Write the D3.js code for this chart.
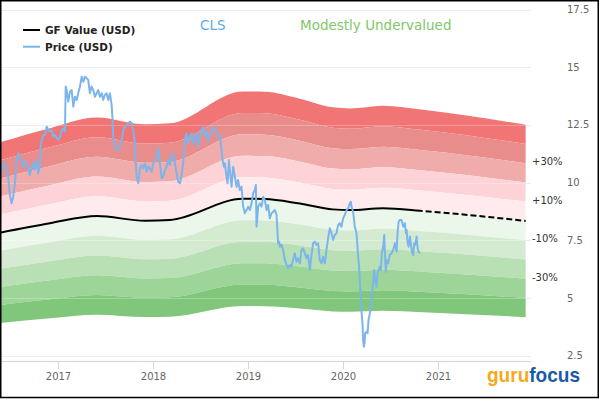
<!DOCTYPE html>
<html><head><meta charset="utf-8">
<script src="https://cdn.jsdelivr.net/npm/d3@7"></script>
<style>html,body{margin:0;padding:0;background:#fff;}svg{display:block;}</style>
</head><body>
<div id="chart"></div>
<script>
// ---------- DATA ----------
const title = "CLS";
const verdict = "Modestly Undervalued";
const legendLabels = ["GF Value (USD)", "Price (USD)"];
const yTicks = [2.5, 5, 7.5, 10, 12.5, 15, 17.5];
const xTickYears = [2017, 2018, 2019, 2020, 2021];
const bandRatios = [1.5, 1.4, 1.3, 1.2, 1.1, 1.0, 0.9, 0.8, 0.7, 0.6, 0.5];
const pctLabels = [["+30%", 1.3], ["+10%", 1.1], ["-10%", 0.9], ["-30%", 0.7]];

// GF Value (decimal year, USD)
const gfValue = [
  [2016.386,7.83],[2016.912,8.24],[2017.407,8.55],[2017.912,8.35],[2018.176,8.38],
  [2018.944,9.30],[2019.176,9.29],[2019.544,9.09],[2019.891,8.84],[2020.070,8.81],
  [2020.418,8.89],[2020.839,8.77],[2021.920,8.34]
];

// Price (decimal year, USD)
const price = [
[2016.393,10.19],[2016.414,10.76],[2016.439,10.84],[2016.457,10.55],[2016.473,10.26],[2016.491,9.46],[2016.509,9.10],[2016.526,9.39],[2016.544,9.97],[2016.562,10.98],[2016.579,11.27],[2016.597,11.12],[2016.614,10.98],[2016.631,10.69],[2016.649,10.91],[2016.667,10.84],[2016.684,10.55],[2016.702,10.33],[2016.720,10.69],[2016.737,10.84],[2016.754,10.55],[2016.772,10.98],[2016.789,10.40],[2016.807,10.69],[2016.814,11.56],[2016.825,11.85],[2016.842,12.06],[2016.860,12.06],[2016.878,12.42],[2016.894,12.28],[2016.912,12.21],[2016.930,12.28],[2016.947,11.99],[2016.965,12.06],[2016.983,11.92],[2017.000,11.85],[2017.018,11.99],[2017.036,12.28],[2017.053,12.35],[2017.070,12.21],[2017.078,14.16],[2017.088,14.01],[2017.105,13.51],[2017.123,13.94],[2017.141,14.01],[2017.158,13.29],[2017.176,13.72],[2017.194,13.58],[2017.210,13.87],[2017.228,14.16],[2017.246,14.59],[2017.263,14.37],[2017.281,14.59],[2017.299,14.52],[2017.315,14.45],[2017.333,13.87],[2017.351,14.16],[2017.368,14.01],[2017.386,13.72],[2017.404,13.87],[2017.421,14.01],[2017.439,13.72],[2017.457,13.87],[2017.473,13.58],[2017.491,13.80],[2017.509,13.87],[2017.526,13.58],[2017.544,13.87],[2017.562,13.36],[2017.572,12.71],[2017.579,11.99],[2017.597,11.56],[2017.614,11.41],[2017.631,11.41],[2017.649,11.56],[2017.667,11.85],[2017.684,12.28],[2017.702,12.42],[2017.720,12.50],[2017.754,12.64],[2017.772,12.57],[2017.789,12.28],[2017.807,11.70],[2017.818,10.69],[2017.825,10.26],[2017.842,9.97],[2017.860,10.62],[2017.878,10.76],[2017.894,10.62],[2017.912,10.84],[2017.930,10.47],[2017.947,10.69],[2017.965,10.62],[2017.983,10.47],[2018.000,10.84],[2018.018,10.98],[2018.036,11.12],[2018.053,11.49],[2018.070,10.84],[2018.088,10.19],[2018.105,10.26],[2018.123,10.55],[2018.141,10.69],[2018.158,10.98],[2018.176,10.76],[2018.194,11.12],[2018.210,11.27],[2018.228,10.84],[2018.246,10.40],[2018.263,10.04],[2018.281,9.97],[2018.299,10.33],[2018.315,10.84],[2018.333,11.85],[2018.351,12.14],[2018.368,11.70],[2018.386,11.99],[2018.404,12.14],[2018.421,11.70],[2018.439,11.92],[2018.457,12.14],[2018.473,11.56],[2018.491,11.92],[2018.509,12.28],[2018.526,12.42],[2018.544,12.06],[2018.562,12.21],[2018.579,11.77],[2018.597,12.06],[2018.614,12.28],[2018.631,12.42],[2018.649,12.28],[2018.667,12.14],[2018.684,11.99],[2018.702,12.06],[2018.713,11.70],[2018.730,10.98],[2018.744,10.69],[2018.754,10.84],[2018.772,10.26],[2018.783,9.97],[2018.797,10.98],[2018.807,10.55],[2018.825,9.82],[2018.842,10.69],[2018.860,10.26],[2018.878,9.82],[2018.894,10.11],[2018.912,9.68],[2018.930,9.82],[2018.947,8.96],[2018.965,8.67],[2018.983,8.81],[2019.000,8.96],[2019.018,8.81],[2019.036,9.10],[2019.053,9.54],[2019.070,9.68],[2019.081,9.90],[2019.088,8.09],[2019.095,8.38],[2019.105,8.96],[2019.123,9.10],[2019.141,8.96],[2019.158,9.39],[2019.176,9.25],[2019.194,8.81],[2019.210,9.03],[2019.228,8.45],[2019.246,8.67],[2019.263,8.74],[2019.281,8.81],[2019.299,8.60],[2019.315,7.37],[2019.326,7.44],[2019.333,7.22],[2019.351,7.30],[2019.368,7.08],[2019.386,6.65],[2019.404,6.43],[2019.421,6.29],[2019.439,6.43],[2019.457,6.36],[2019.473,6.65],[2019.491,6.94],[2019.509,6.57],[2019.526,6.72],[2019.544,6.50],[2019.562,7.08],[2019.579,7.15],[2019.597,6.94],[2019.614,6.72],[2019.631,6.86],[2019.649,6.21],[2019.667,6.86],[2019.684,7.37],[2019.702,7.44],[2019.720,7.30],[2019.737,7.37],[2019.754,6.65],[2019.772,6.50],[2019.789,6.79],[2019.807,6.50],[2019.825,7.08],[2019.842,7.59],[2019.860,8.02],[2019.878,7.80],[2019.895,7.51],[2019.912,7.73],[2019.930,7.80],[2019.947,8.16],[2019.965,8.24],[2019.983,8.09],[2020.000,8.45],[2020.018,8.60],[2020.036,8.81],[2020.053,8.89],[2020.070,9.10],[2020.081,9.17],[2020.088,8.96],[2020.105,8.74],[2020.123,8.09],[2020.141,7.80],[2020.158,6.79],[2020.168,6.36],[2020.175,5.78],[2020.186,4.91],[2020.197,4.19],[2020.204,3.90],[2020.210,3.18],[2020.218,2.89],[2020.225,3.04],[2020.231,3.47],[2020.246,3.54],[2020.257,3.47],[2020.267,4.05],[2020.281,4.34],[2020.292,4.62],[2020.302,5.20],[2020.316,5.64],[2020.326,6.21],[2020.337,5.78],[2020.351,5.49],[2020.362,6.07],[2020.372,6.21],[2020.386,6.36],[2020.397,6.21],[2020.407,6.94],[2020.421,7.22],[2020.432,7.73],[2020.442,6.65],[2020.449,6.14],[2020.457,6.65],[2020.473,6.50],[2020.491,6.86],[2020.509,6.94],[2020.526,7.08],[2020.544,7.37],[2020.562,7.01],[2020.572,7.80],[2020.583,8.31],[2020.597,8.38],[2020.614,8.38],[2020.631,8.09],[2020.649,8.24],[2020.660,7.80],[2020.667,7.95],[2020.677,7.44],[2020.688,7.22],[2020.702,7.66],[2020.712,7.37],[2020.723,7.01],[2020.737,6.86],[2020.747,7.37],[2020.758,7.30],[2020.772,7.66],[2020.783,7.15],[2020.793,7.01],[2020.807,6.94]
];

// ---------- STYLE ----------
const bandColors = ["#f17575","#e98c8c","#f0abab","#fdd3d7","#ffebee",
                    "#ecf7ec","#d4ebd2","#b9e0b5","#9dd498","#80c67b"];
const W = 600, H = 420;
const font = "'DejaVu Sans', Verdana, sans-serif";

function toDate(t){
  const y = Math.floor(t);
  const s = Date.UTC(y,0,1), e = Date.UTC(y+1,0,1);
  return new Date(s + (t - y) * (e - s));
}

const svg = d3.select("#chart").append("svg").attr("width", W).attr("height", H);
svg.append("rect").attr("width", W).attr("height", H).attr("fill", "#fff");

const x = d3.scaleUtc()
  .domain([new Date(Date.UTC(2017,0,1)), new Date(Date.UTC(2021,0,1))])
  .range([58.3, 438.3]);
const y = d3.scaleLinear().domain([2.5, 17.5]).range([355.7, 9.5]);
const plotRight = 530.7, axisY = 361;

// gridlines
svg.append("g").selectAll("line").data(yTicks).join("line")
  .attr("x1", 0).attr("x2", plotRight)
  .attr("y1", d => Math.round(y(d)) + 0.5).attr("y2", d => Math.round(y(d)) + 0.5)
  .attr("stroke", "#e6e6e6").attr("stroke-width", 1);

// bands
const gfData = gfValue.map(d => ({t: toDate(d[0]), v: d[1]}));
const bands = svg.append("g");
for (let i = 0; i < bandRatios.length - 1; i++) {
  const hi = bandRatios[i], lo = bandRatios[i+1];
  const area = d3.area().curve(d3.curveMonotoneX)
    .x(d => x(d.t)).y0(d => y(d.v * lo)).y1(d => y(d.v * hi));
  bands.append("path").datum(gfData).attr("d", area).attr("fill", bandColors[i]);
}
// faint gridlines showing through the bands
svg.append("g").selectAll("line").data(yTicks).join("line")
  .attr("x1", 0).attr("x2", plotRight)
  .attr("y1", d => Math.round(y(d)) + 0.5).attr("y2", d => Math.round(y(d)) + 0.5)
  .attr("stroke", "#ffffff").attr("stroke-opacity", 0.25).attr("stroke-width", 1);

// GF value line: solid while price exists, dashed after
const lastPriceX = x(toDate(price[price.length-1][0]));
const defs = svg.append("defs");
defs.append("clipPath").attr("id","cSolid").append("rect")
  .attr("x", 0).attr("y", 0).attr("width", lastPriceX).attr("height", H);
defs.append("clipPath").attr("id","cDash").append("rect")
  .attr("x", lastPriceX).attr("y", 0).attr("width", W - lastPriceX).attr("height", H);
const gfLine = d3.line().curve(d3.curveMonotoneX).x(d => x(d.t)).y(d => y(d.v));
svg.append("path").datum(gfData).attr("d", gfLine).attr("fill","none")
  .attr("stroke","#000").attr("stroke-width",2).attr("clip-path","url(#cSolid)");
svg.append("path").datum(gfData).attr("d", gfLine).attr("fill","none")
  .attr("stroke","#000").attr("stroke-width",2).attr("stroke-dasharray","6,3")
  .attr("clip-path","url(#cDash)");

// price line
const priceLine = d3.line().x(d => x(toDate(d[0]))).y(d => y(d[1]));
svg.append("path").datum(price).attr("d", priceLine).attr("fill","none")
  .attr("stroke","#7cb5ec").attr("stroke-width",2).attr("stroke-linejoin","round");

// x axis
svg.append("line").attr("x1",0).attr("x2",plotRight).attr("y1",axisY+0.5).attr("y2",axisY+0.5)
  .attr("stroke","#ccd6eb");
const xt = svg.append("g").selectAll("g").data(xTickYears).join("g")
  .attr("transform", d => `translate(${Math.round(x(new Date(Date.UTC(d,0,1))))+0.5},0)`);
xt.append("line").attr("y1",axisY).attr("y2",axisY+8).attr("stroke","#ccd6eb");
xt.append("text").attr("y",379.5).attr("text-anchor","middle")
  .attr("font-family",font).attr("font-size",10).attr("fill","#666").text(d => d);

// y labels (right)
svg.append("g").selectAll("text").data(yTicks).join("text")
  .attr("x",567).attr("y", d => y(d) + 3.5)
  .attr("font-family",font).attr("font-size",10).attr("fill","#666")
  .text(d => d);

// percent labels
const gfEnd = gfValue[gfValue.length-1][1];
svg.append("g").selectAll("text").data(pctLabels).join("text")
  .attr("x",532).attr("y", d => y(gfEnd * d[1]) + 2)
  .attr("font-family",font).attr("font-size",10).attr("fill","#333")
  .text(d => d[0]);

// legend
const lg = svg.append("g");
[["#000",30,34],["#7cb5ec",46.7,51]].forEach((s,i) => {
  lg.append("line").attr("x1",23).attr("x2",40).attr("y1",s[1]).attr("y2",s[1])
    .attr("stroke",s[0]).attr("stroke-width",2);
  lg.append("text").attr("x",45).attr("y",s[2]).attr("font-family",font)
    .attr("font-weight","bold").attr("font-size",10.5).attr("fill","#222")
    .text(legendLabels[i]);
});

// titles
svg.append("text").attr("x",200).attr("y",30).attr("font-family",font)
  .attr("font-size",13.5).attr("fill","#5ea9ea").text(title);
svg.append("text").attr("x",300).attr("y",30).attr("font-family",font)
  .attr("font-size",13.5).attr("fill","#7ec866").text(verdict);

// logo
const logo = svg.append("text").attr("x",487).attr("y",382)
  .attr("font-family","'Liberation Sans Narrow', 'Liberation Sans', sans-serif")
  .attr("font-weight","bold").attr("font-size",21)
  .attr("textLength",93).attr("lengthAdjust","spacingAndGlyphs");
logo.append("tspan").attr("fill","#f7a81b").text("guru");
logo.append("tspan").attr("fill","#1b5aa6").text("focus");

// frame
svg.append("rect").attr("x",0.75).attr("y",0.75).attr("width",597.5).attr("height",396.75)
  .attr("fill","none").attr("stroke","#000").attr("stroke-width",1.5);
</script>
</body></html>
